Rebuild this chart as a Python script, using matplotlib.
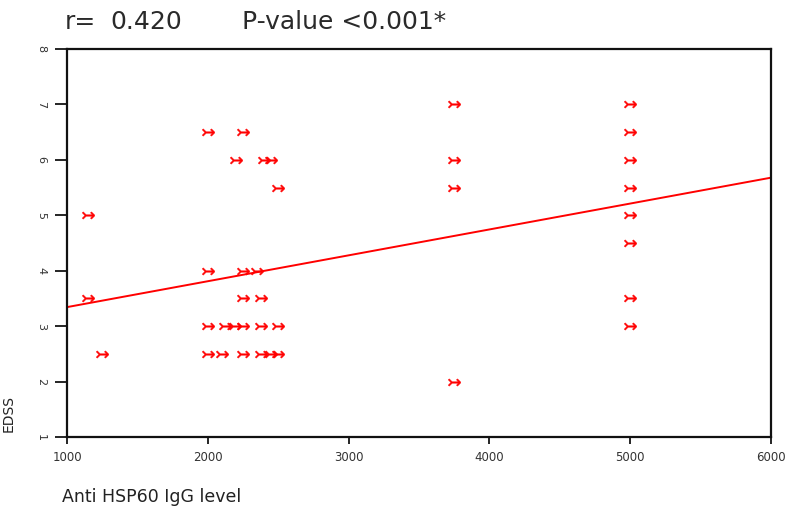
import numpy as np
import matplotlib
matplotlib.use("Agg")
import matplotlib.pyplot as plt

# Anti HSP60 IgG level (x) and EDSS (y)
hsp60 = [3750, 5000,
         2000, 2250, 5000,
         2200, 2400, 2450, 3750, 5000,
         2500, 3750, 5000,
         1150, 5000,
         5000,
         2000, 2250, 2350,
         1150, 2250, 2380, 5000,
         2000, 2120, 2190, 2250, 2380, 2500, 5000,
         1250, 2000, 2100, 2250, 2380, 2450, 2500,
         3750]
edss = [7, 7,
        6.5, 6.5, 6.5,
        6, 6, 6, 6, 6,
        5.5, 5.5, 5.5,
        5, 5,
        4.5,
        4, 4, 4,
        3.5, 3.5, 3.5, 3.5,
        3, 3, 3, 3, 3, 3, 3,
        2.5, 2.5, 2.5, 2.5, 2.5, 2.5, 2.5,
        2]

x_ticks = [1000, 2000, 3000, 4000, 5000, 6000]
y_ticks = [1, 2, 3, 4, 5, 6, 7, 8]
title_parts = ["r=", "0.420", "P-value <0.001*"]

plt.rcParams['font.family'] = ['DejaVu Sans']

fig = plt.figure(figsize=(7.87, 5.14), dpi=100)
ax = fig.add_axes([67/787, 1-437/514, (771-67)/787, (437-49)/514])

x = np.array(hsp60, dtype=float)
y = np.array(edss, dtype=float)
ax.plot(x, y, linestyle='none', marker=r'$\rightarrowtail$', markersize=9,
        color='#ff0000', markeredgewidth=0.3)

slope, intercept = np.polyfit(x, y, 1)
xl = np.array([x_ticks[0], x_ticks[-1]], dtype=float)
ax.plot(xl, intercept + slope*xl, color='#ff0000', linewidth=1.4)

ax.set_xlim(x_ticks[0], x_ticks[-1])
ax.set_ylim(y_ticks[0], y_ticks[-1])
ax.set_xticks(x_ticks)
ax.set_yticks(y_ticks)
ax.set_xticklabels([str(v) for v in x_ticks], fontsize=8.5, color='#333333')
ax.set_yticklabels([str(v) for v in y_ticks], fontsize=8, color='#333333', rotation=270, va='center')
ax.tick_params(axis='x', length=5, width=1.2, pad=5)
ax.tick_params(axis='y', length=9, width=1.2, pad=6)
for s in ax.spines.values():
    s.set_linewidth(1.6)
    s.set_color('#111111')

fig.text(9/787, 1-413/514, "EDSS", rotation=90, fontsize=10, va='center', ha='center', color='#222222')
fig.text(62/787, 1-497/514, "Anti HSP60 IgG level", fontsize=12.5, va='center', ha='left', color='#222222')
title_x = [65, 110, 242]
for tx, part in zip(title_x, title_parts):
    fig.text(tx/787, 1-29/514, part, fontsize=18, va='baseline', ha='left', color='#2a2a2a')

fig.savefig("out.png", dpi=100)
